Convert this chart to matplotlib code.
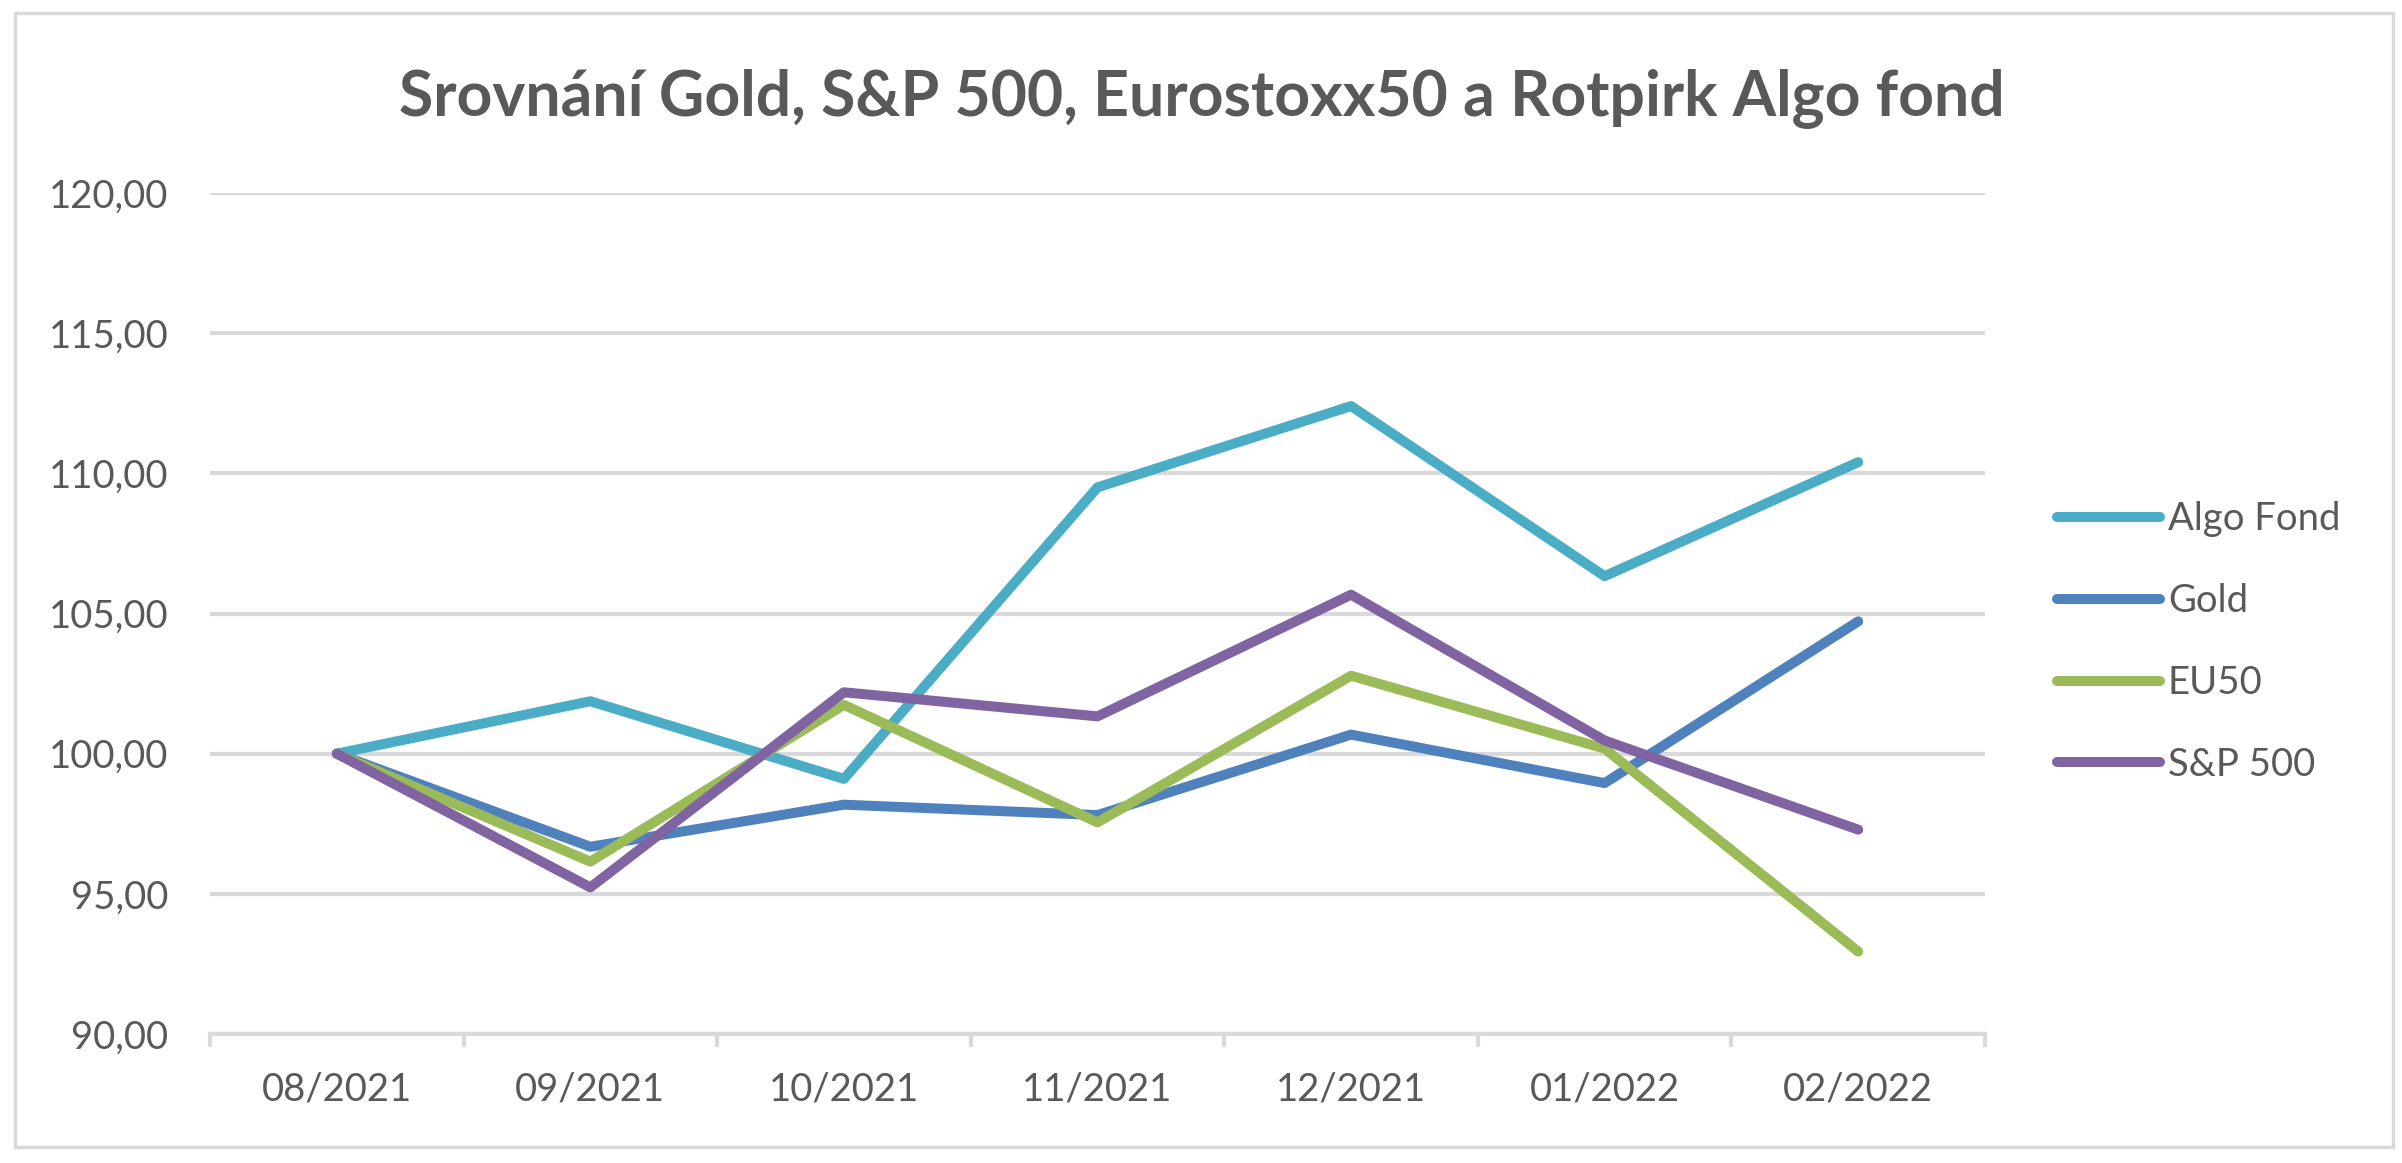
import numpy as np
import matplotlib
matplotlib.use("Agg")
import matplotlib.pyplot as plt
from matplotlib.ticker import FuncFormatter, FixedLocator
from matplotlib.patches import Rectangle

months = ["08/2021", "09/2021", "10/2021", "11/2021", "12/2021", "01/2022", "02/2022"]
algo_fond = [100.0, 101.87, 99.10, 109.50, 112.40, 106.33, 110.40]
gold = [100.0, 96.68, 98.18, 97.81, 100.68, 98.95, 104.72]
eu50 = [100.0, 96.15, 101.74, 97.55, 102.78, 100.18, 92.94]
sp500 = [100.0, 95.23, 102.19, 101.33, 105.67, 100.47, 97.29]

series = [
    ("Algo Fond", algo_fond, "#4BACC6"),
    ("Gold", gold, "#4F81BD"),
    ("EU50", eu50, "#9BBB59"),
    ("S&P 500", sp500, "#8064A2"),
]

TEXT = "#595959"
GRID = "#D9D9D9"

plt.rcParams["font.family"] = ["Lato", "DejaVu Sans"]

fig = plt.figure(figsize=(24.02, 11.63), dpi=100)
ax = fig.add_axes([210 / 2402, 1 - 1034 / 1163, (1985 - 210) / 2402, (1034 - 193) / 1163])

x = np.arange(len(months))
for name, vals, col in series:
    ax.plot(x, vals, color=col, lw=7.2, label=name,
            solid_capstyle="round", solid_joinstyle="round", zorder=3)

ax.set_xlim(-0.5, len(months) - 0.5)
ax.set_ylim(90, 120)
ax.set_yticks(np.arange(90, 121, 5))
ax.yaxis.set_major_formatter(FuncFormatter(lambda v, p: f"{v:.2f}".replace(".", ",")))
ax.set_xticks(x)
ax.set_xticklabels(months)
ax.xaxis.set_minor_locator(FixedLocator(np.arange(-0.5, len(months), 1.0)))

ax.grid(axis="y", color=GRID, lw=3, zorder=0)
ax.set_axisbelow(True)
for s in ["top", "right", "left"]:
    ax.spines[s].set_visible(False)
ax.spines["bottom"].set_color(GRID)
ax.spines["bottom"].set_linewidth(3)

ax.tick_params(axis="y", length=0, pad=30, labelsize=27.5, labelcolor=TEXT)
ax.tick_params(axis="x", which="major", length=0, pad=27, labelsize=27.5, labelcolor=TEXT)
ax.tick_params(axis="x", which="minor", length=9.5, width=3, color=GRID, direction="out")

fig.text(0.5004, 1 - 115 / 1163, "Srovnání Gold, S&P 500, Eurostoxx50 a Rotpirk Algo fond",
         ha="center", va="baseline", fontsize=45, fontweight="bold", color=TEXT)

leg = ax.legend(loc="center left", bbox_to_anchor=(2057 / 2402, 1 - 642 / 1163),
                bbox_transform=fig.transFigure, frameon=False, fontsize=27.5,
                handlelength=2.7, handletextpad=0.2, labelspacing=1.2,
                borderpad=0, borderaxespad=0)
for t in leg.get_texts():
    t.set_color(TEXT)

fig.patches.append(Rectangle((15 / 2402, 1 - 1147 / 1163), (2393 - 15) / 2402, (1147 - 13) / 1163,
                             transform=fig.transFigure, fill=False, edgecolor=GRID, lw=2.5))

fig.savefig("out.png", dpi=100, facecolor="white")
